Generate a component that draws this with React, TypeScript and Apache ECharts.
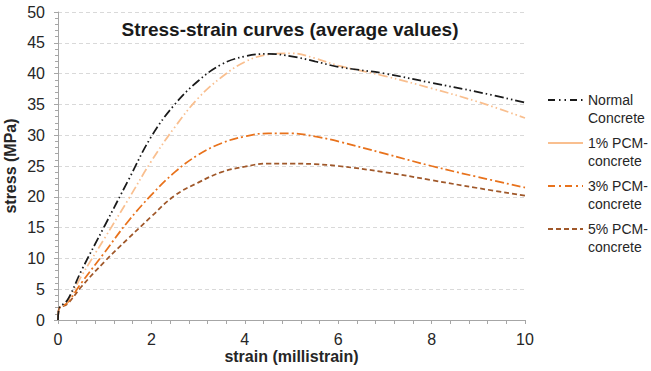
import React, { useEffect, useRef } from "react";
import * as echarts from "echarts";

const strain = [0, 0.02, 0.2, 0.5, 1, 1.5, 2, 2.5, 3, 3.5, 4, 4.5, 5, 5.5, 6, 7, 8, 9, 10];
const normalConcrete = [0, 1.8, 3.2, 8, 15.3, 22.6, 29.8, 35, 38.8, 41.5, 42.8, 43.2, 42.8, 42, 41.1, 40, 38.5, 37, 35.3];
const pcm1 = [0, 1.8, 3, 7.1, 13.3, 19.5, 25.8, 31.3, 36, 39.4, 41.9, 43.1, 43.3, 42.5, 41.3, 39.6, 37.6, 35.4, 32.8];
const pcm3 = [0, 1.8, 2.8, 6, 11, 16, 20.3, 24, 26.8, 28.7, 29.8, 30.3, 30.3, 29.8, 29, 27, 25, 23.2, 21.5];
const pcm5 = [0, 1.8, 2.6, 5.4, 9.5, 13.2, 16.8, 20.2, 22.3, 24, 24.9, 25.4, 25.4, 25.3, 25, 24, 22.7, 21.4, 20.2];

const seriesNames = ["Normal Concrete", "1% PCM-concrete", "3% PCM-concrete", "5% PCM-concrete"];
const legendLabels = ["Normal\nConcrete", "1% PCM-\nconcrete", "3% PCM-\nconcrete", "5% PCM-\nconcrete"];
const colors = ["#1a1a1a", "#F9BF8F", "#E8721C", "#A0582A"];
const dashes: number[][] = [
  [9, 3, 1.5, 3, 1.5, 3],
  [9, 3, 1.5, 3, 1.5, 3],
  [9, 3, 2, 3],
  [5, 3],
];
const legendDashes: (number[] | "solid")[] = [[7, 4, 1.5, 4, 1.5, 4], "solid", [7, 4, 2, 4], [5, 3]];
const values = [normalConcrete, pcm1, pcm3, pcm5];

export default function App() {
  const ref = useRef<HTMLDivElement>(null);
  useEffect(() => {
    if (!ref.current) return;
    const chart = echarts.init(ref.current, undefined, { renderer: "svg" });
    const font = "Liberation Sans, Arial, sans-serif";
    const legendY = [100, 143, 186, 229];
    const graphic: any[] = [];
    legendY.forEach((y, i) => {
      graphic.push({
        type: "line",
        shape: { x1: 548, y1: y, x2: 583, y2: y },
        style: { stroke: colors[i], lineWidth: 2, lineDash: legendDashes[i] === "solid" ? null : legendDashes[i] },
      });
      graphic.push({
        type: "text",
        x: 588,
        y: y - 9,
        style: { text: legendLabels[i], fill: "#262626", font: `14px ${font}`, lineHeight: 18 },
      });
    });
    chart.setOption({
      animation: false,
      backgroundColor: "#ffffff",
      title: {
        text: "Stress-strain curves (average values)",
        left: 285,
        top: 15,
        textAlign: "center",
        textStyle: { fontFamily: font, fontSize: 19, fontWeight: "bold", color: "#1a1a1a" },
      },
      grid: { left: 58, right: 126, top: 12, bottom: 51, containLabel: false, outerBoundsMode: "none" },
      xAxis: {
        type: "value",
        min: 0,
        max: 10,
        interval: 2,
        name: "strain (millistrain)",
        nameLocation: "middle",
        nameGap: 28,
        nameMoveOverlap: false,
        nameTextStyle: { fontFamily: font, fontSize: 16, fontWeight: "bold", color: "#262626" },
        axisLine: { lineStyle: { color: "#A6A6A6" } },
        axisTick: { show: true, length: 4, lineStyle: { color: "#A6A6A6" } },
        minorTick: { show: true, splitNumber: 5, length: 4, lineStyle: { color: "#A6A6A6" } },
        axisLabel: { fontFamily: font, fontSize: 16, color: "#262626", margin: 11 },
        splitLine: { show: false },
      },
      yAxis: {
        type: "value",
        min: 0,
        max: 50,
        interval: 5,
        name: "stress (MPa)",
        nameLocation: "middle",
        nameGap: 40,
        nameMoveOverlap: false,
        nameTextStyle: { fontFamily: font, fontSize: 16, fontWeight: "bold", color: "#262626" },
        axisLine: { show: true, lineStyle: { color: "#A6A6A6" } },
        axisTick: { show: true, length: 4, lineStyle: { color: "#A6A6A6" } },
        minorTick: { show: true, splitNumber: 5, length: 3, lineStyle: { color: "#A6A6A6" } },
        axisLabel: { fontFamily: font, fontSize: 16, color: "#262626", margin: 13 },
        splitLine: { show: true, lineStyle: { color: "#D9D9D9", type: [4, 3] } },
      },
      graphic,
      series: values.map((v, i) => ({
        name: seriesNames[i],
        type: "line",
        smooth: 0.4,
        showSymbol: false,
        data: strain.map((x, j) => [x, v[j]]),
        lineStyle: { color: colors[i], width: 1.75, type: dashes[i] },
        z: 10 - i,
      })),
    });
    return () => chart.dispose();
  }, []);
  return <div ref={ref} style={{ width: 651, height: 371, position: "absolute", left: 0, top: 0 }} />;
}
